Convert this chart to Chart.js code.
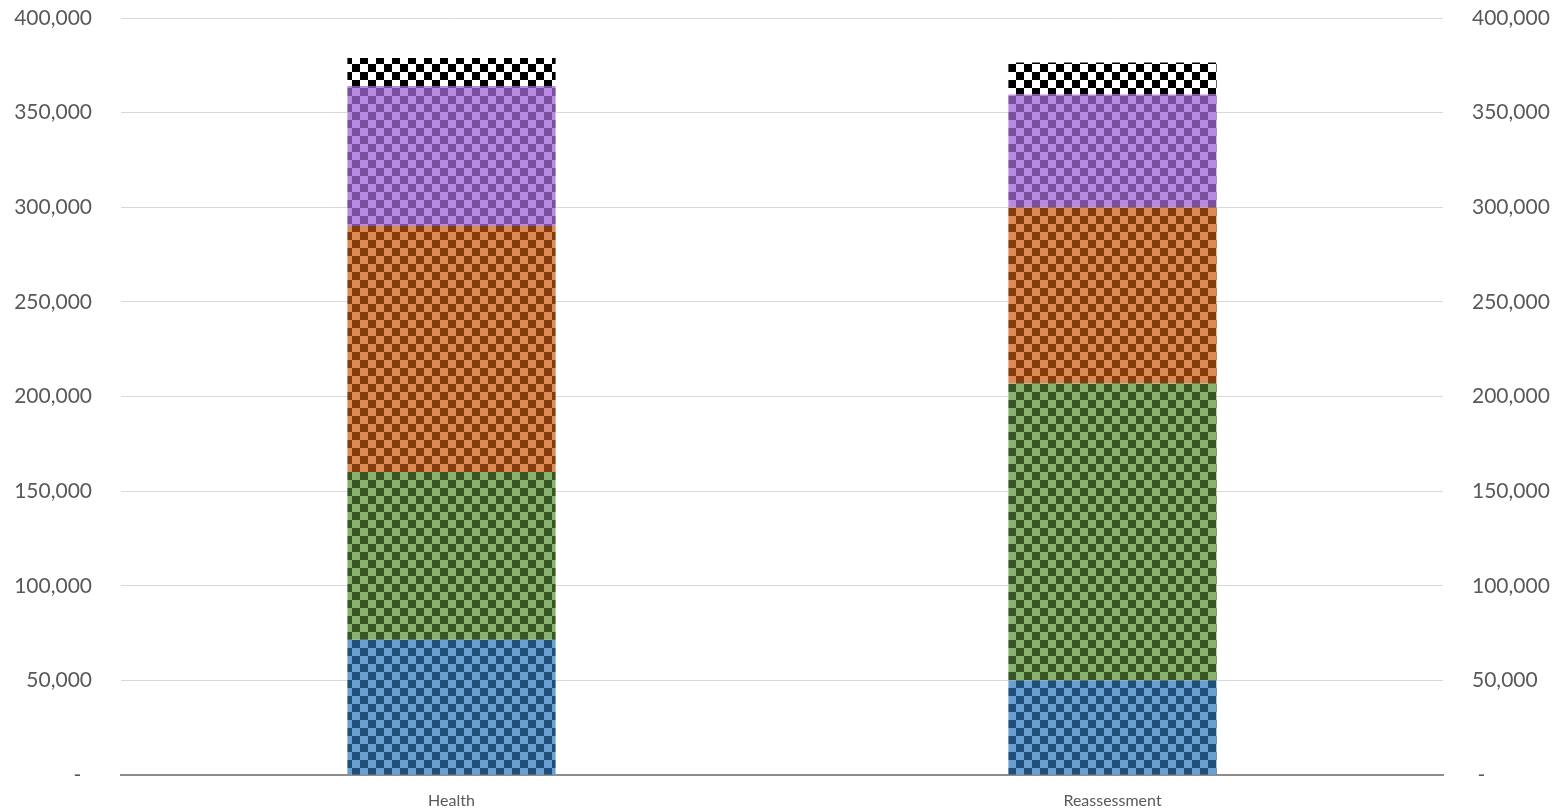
<!DOCTYPE html>
<html>
<head>
<meta charset="utf-8">
<script src="https://cdn.jsdelivr.net/npm/chart.js@4"></script>
<style>
  html, body { margin: 0; padding: 0; background: #fff; }
  #wrap { width: 1566px; height: 812px; }
</style>
</head>
<body>
<div id="wrap"><canvas id="chart"></canvas></div>
<script>
var categories = ["Health", "Reassessment"];
var seriesBlue = [71500, 50000];
var seriesGreen = [88600, 156900];
var seriesOrange = [130000, 93000];
var seriesPurple = [74000, 59700];
var seriesBlack = [14800, 16900];
var tickMax = 400000;
var tickStep = 50000;

// two-colour checkerboard, 8px cells
function checker(dark, light) {
  var c = document.createElement("canvas");
  c.width = 16; c.height = 16;
  var g = c.getContext("2d");
  g.fillStyle = light;
  g.fillRect(0, 0, 16, 16);
  g.fillStyle = dark;
  g.fillRect(0, 0, 8, 8);
  g.fillRect(8, 8, 8, 8);
  return g.createPattern(c, "repeat");
}

var ctx = document.getElementById("chart").getContext("2d");

function bars(data, pattern) {
  return {
    data: data,
    backgroundColor: pattern,
    borderWidth: 0,
    barPercentage: 0.63,
    categoryPercentage: 0.5,
    yAxisID: "y"
  };
}

var font = { family: "Lato, 'Open Sans', sans-serif", size: 21 };

// fixed side widths and no extra top/bottom padding from tick labels
function fitSide(w) {
  return function (s) {
    s.width = w;
    s.paddingTop = 18;
    s.paddingBottom = 0;
  };
}

var chart = new Chart(ctx, {
  type: "bar",
  data: {
    labels: categories,
    datasets: [
      bars(seriesBlue, checker("#1f4e79", "#6a9fd2")),
      bars(seriesGreen, checker("#375623", "#8ab26f")),
      bars(seriesOrange, checker("#843c0c", "#dd8a55")),
      bars(seriesPurple, checker("#7a4fa0", "#b98ae2")),
      bars(seriesBlack, checker("#000000", "#ffffff"))
    ]
  },
  options: {
    responsive: true,
    maintainAspectRatio: false,
    animation: false,
    layout: { padding: 0 },
    plugins: {
      legend: { display: false },
      tooltip: { enabled: false }
    },
    scales: {
      x: {
        stacked: true,
        grid: { display: false },
        border: { color: "#8c8c8c", width: 2 },
        afterFit: function (s) { s.height = 37; },
        ticks: { color: "#595959", font: { family: font.family, size: 16 }, padding: 8 }
      },
      y: {
        stacked: true,
        position: "left",
        min: 0,
        max: tickMax,
        grid: { color: "#d9d9d9", lineWidth: 1, drawTicks: false },
        border: { display: false },
        afterFit: fitSide(121),
        ticks: {
          stepSize: tickStep,
          color: "#595959",
          font: font,
          padding: 29,
          callback: function (v) { return v === 0 ? "-  " : v.toLocaleString("en-US"); }
        }
      },
      y2: {
        position: "right",
        min: 0,
        max: tickMax,
        grid: { display: false, drawTicks: false },
        border: { display: false },
        afterFit: fitSide(123),
        ticks: {
          stepSize: tickStep,
          color: "#595959",
          font: font,
          padding: 29,
          callback: function (v) { return v === 0 ? " -" : v.toLocaleString("en-US"); }
        }
      }
    }
  }
});
</script>
</body>
</html>
